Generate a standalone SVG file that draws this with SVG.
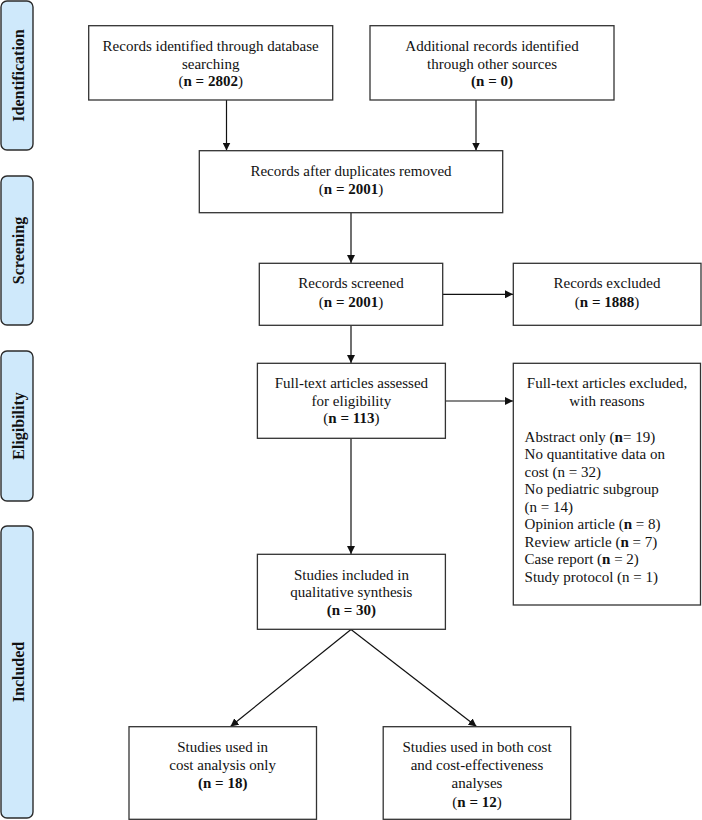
<svg xmlns="http://www.w3.org/2000/svg" width="702" height="820" viewBox="0 0 702 820">
<defs>
<style>
.side{fill:#cfe9fb;stroke:#2b2b2b;stroke-width:1.4}
.box{fill:#ffffff;stroke:#333333;stroke-width:1.3}
.lbl{font-family:"Liberation Serif","Times New Roman",serif;font-size:16px;font-weight:bold;fill:#111;text-anchor:middle}
.t{font-family:"Liberation Serif","Times New Roman",serif;font-size:15px;fill:#111;text-anchor:middle}
.tl{font-family:"Liberation Serif","Times New Roman",serif;font-size:15px;fill:#111;text-anchor:start}
.b{font-weight:bold}
.conn{stroke:#111;stroke-width:1.2;fill:none;marker-end:url(#ah)}
</style>
<marker id="ah" viewBox="0 0 10 10" refX="10" refY="5" markerWidth="8" markerHeight="8" markerUnits="userSpaceOnUse" orient="auto">
<path d="M0,0 L10,5 L0,10 z" fill="#111"/>
</marker>
</defs>
<rect width="702" height="820" fill="#ffffff"/>

<g id="stage-identification">
<rect class="side" x="1" y="1" width="32" height="149" rx="6"/>
<text class="lbl" transform="translate(23.5,75.5) rotate(-90)">Identification</text>
</g>
<g id="stage-screening">
<rect class="side" x="1" y="176" width="32" height="149" rx="6"/>
<text class="lbl" transform="translate(23.5,250.5) rotate(-90)">Screening</text>
</g>
<g id="stage-eligibility">
<rect class="side" x="1" y="351" width="32" height="150" rx="6"/>
<text class="lbl" transform="translate(23.5,426) rotate(-90)">Eligibility</text>
</g>
<g id="stage-included">
<rect class="side" x="1" y="526" width="32" height="292" rx="6"/>
<text class="lbl" transform="translate(23.5,672) rotate(-90)">Included</text>
</g>

<g id="connectors">
<line class="conn" x1="226.5" y1="100" x2="226.5" y2="150.5"/>
<line class="conn" x1="476" y1="100" x2="476" y2="150.5"/>
<line class="conn" x1="351" y1="213" x2="351" y2="263"/>
<line class="conn" x1="443" y1="294.3" x2="513" y2="294.3"/>
<line class="conn" x1="351" y1="325.5" x2="351" y2="363"/>
<line class="conn" x1="445.5" y1="401" x2="513" y2="401"/>
<line class="conn" x1="351" y1="438.5" x2="351" y2="554"/>
<line class="conn" x1="351" y1="629.5" x2="230.5" y2="726.5"/>
<line class="conn" x1="351" y1="629.5" x2="476.5" y2="726.5"/>
</g>

<g id="n-database">
<rect class="box" x="88.7" y="25.7" width="244" height="74.3"/>
<text class="t" x="210.7" y="51">Records identified through database</text>
<text class="t" x="210.7" y="68.5">searching</text>
<text class="t" x="210.7" y="86">(<tspan class="b">n = 2802</tspan>)</text>
</g>
<g id="n-other">
<rect class="box" x="370" y="25.7" width="244" height="74.3"/>
<text class="t" x="492" y="51">Additional records identified</text>
<text class="t" x="492" y="68.5">through other sources</text>
<text class="t b" x="492" y="86">(n = 0)</text>
</g>
<g id="n-dedup">
<rect class="box" x="199.3" y="150.7" width="303.4" height="62"/>
<text class="t" x="351" y="175.7">Records after duplicates removed</text>
<text class="t" x="351" y="194.3">(<tspan class="b">n = 2001</tspan>)</text>
</g>
<g id="n-screened">
<rect class="box" x="259.3" y="263.3" width="183.4" height="62"/>
<text class="t" x="351" y="288.3">Records screened</text>
<text class="t" x="351" y="306.7">(<tspan class="b">n = 2001</tspan>)</text>
</g>
<g id="n-excluded">
<rect class="box" x="513.3" y="263.3" width="187.7" height="62"/>
<text class="t" x="607" y="288.3">Records excluded</text>
<text class="t" x="607" y="306.7">(<tspan class="b">n = 1888</tspan>)</text>
</g>
<g id="n-fulltext">
<rect class="box" x="257.4" y="363.3" width="188" height="75"/>
<text class="t" x="351.4" y="388.3">Full-text articles assessed</text>
<text class="t" x="351.4" y="406">for eligibility</text>
<text class="t" x="351.4" y="423.3">(<tspan class="b">n = 113</tspan>)</text>
</g>
<g id="n-ftexcluded">
<rect class="box" x="513.3" y="363.3" width="187.2" height="241.7"/>
<text class="t" x="607" y="388.3">Full-text articles excluded,</text>
<text class="t" x="607" y="406">with reasons</text>
<text class="tl" x="524.6" y="441.7">Abstract only (<tspan class="b">n</tspan>= 19)</text>
<text class="tl" x="524.6" y="459">No quantitative data on</text>
<text class="tl" x="524.6" y="476.7">cost (n = 32)</text>
<text class="tl" x="524.6" y="494">No pediatric subgroup</text>
<text class="tl" x="524.6" y="511.7">(n = 14)</text>
<text class="tl" x="524.6" y="529">Opinion article (<tspan class="b">n</tspan> = 8)</text>
<text class="tl" x="524.6" y="546.7">Review article (<tspan class="b">n</tspan> = 7)</text>
<text class="tl" x="524.6" y="564.3">Case report (<tspan class="b">n</tspan> = 2)</text>
<text class="tl" x="524.6" y="582.3">Study protocol (n = 1)</text>
</g>
<g id="n-included">
<rect class="box" x="257.4" y="554.3" width="188" height="75"/>
<text class="t" x="351.4" y="580">Studies included in</text>
<text class="t" x="351.4" y="597.3">qualitative synthesis</text>
<text class="t b" x="351.4" y="615">(n = 30)</text>
</g>
<g id="n-costonly">
<rect class="box" x="129" y="726.7" width="187.5" height="92.6"/>
<text class="t" x="222.7" y="751.7">Studies used in</text>
<text class="t" x="222.7" y="770">cost analysis only</text>
<text class="t b" x="222.7" y="788.3">(n = 18)</text>
</g>
<g id="n-both">
<rect class="box" x="383.2" y="726.7" width="187.5" height="92.6"/>
<text class="t" x="477" y="751.7">Studies used in both cost</text>
<text class="t" x="477" y="770">and cost-effectiveness</text>
<text class="t" x="477" y="788.3">analyses</text>
<text class="t" x="477" y="806.7">(<tspan class="b">n = 12</tspan>)</text>
</g>
</svg>
